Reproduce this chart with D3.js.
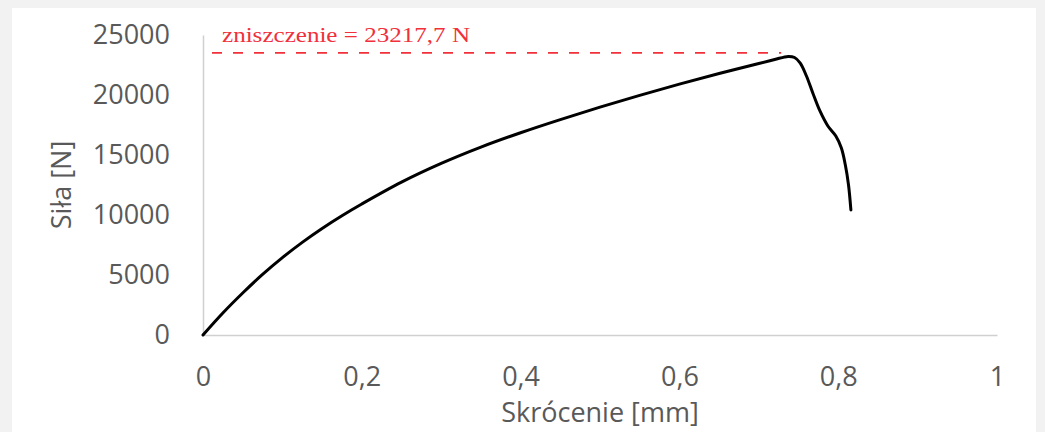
<!DOCTYPE html>
<html>
<head>
<meta charset="utf-8">
<script src="https://cdn.jsdelivr.net/npm/d3@7"></script>
<style>
  html, body { margin: 0; padding: 0; background: #f2f2f2; }
  svg { display: block; }
</style>
</head>
<body>
<svg id="chart" width="1045" height="432"></svg>
<script>
// Compression test: shortening [mm] vs. force [N]
const shortening = [0, 0.025, 0.05, 0.075, 0.1, 0.125, 0.15, 0.175, 0.2, 0.25, 0.3, 0.35, 0.4, 0.45,
  0.5, 0.55, 0.6, 0.65, 0.7, 0.72, 0.737, 0.745, 0.752, 0.760, 0.768, 0.777, 0.787, 0.797, 0.804,
  0.809, 0.813, 0.816];
const force = [0, 1833, 3500, 5050, 6450, 7720, 8880, 9940, 10917, 12737, 14297, 15657, 16857, 17952,
  18987, 19972, 20907, 21792, 22622, 22954, 23217.7, 23125, 22667, 21583, 20167, 18667, 17417, 16583,
  15583, 14167, 12500, 10417];
const failureForce = 23217.7;
const xTicks = [0, 0.2, 0.4, 0.6, 0.8, 1];
const yTicks = [0, 5000, 10000, 15000, 20000, 25000];

const svg = d3.select("#chart");

// white chart panel
svg.append("rect").attr("x", 12).attr("y", 8).attr("width", 1024).attr("height", 424).attr("fill", "#ffffff");

const x = d3.scaleLinear().domain([0, 1]).range([203, 997]);
const y = d3.scaleLinear().domain([0, 25000]).range([335, 35]);

const fmt = d => String(d).replace(".", ",");

// x axis
const xAxis = svg.append("g").attr("transform", `translate(0,${y(0)})`)
  .call(d3.axisBottom(x).tickValues(xTicks).tickSize(0).tickPadding(32).tickFormat(fmt));
xAxis.select(".domain").attr("stroke", "#d0d0d0").attr("stroke-width", 1.5);
xAxis.selectAll("text").attr("font-family", "'Open Sans', sans-serif").attr("font-size", 27)
  .attr("fill", "#595959");

// y axis
const yAxis = svg.append("g").attr("transform", `translate(${x(0)},0)`)
  .call(d3.axisLeft(y).tickValues(yTicks).tickSize(0).tickPadding(33).tickFormat(d => String(d)));
yAxis.select(".domain").attr("stroke", "#d0d0d0").attr("stroke-width", 1.5);
yAxis.selectAll("text").attr("font-family", "'Open Sans', sans-serif").attr("font-size", 27)
  .attr("fill", "#595959");

// axis titles
svg.append("text").attr("x", (x(0) + x(1)) / 2).attr("y", 422).attr("text-anchor", "middle")
  .attr("font-family", "'Open Sans', sans-serif").attr("font-size", 27).attr("fill", "#595959")
  .text("Skrócenie [mm]");
svg.append("text").attr("transform", `translate(71,${(y(0) + y(25000)) / 2}) rotate(-90)`)
  .attr("text-anchor", "middle")
  .attr("font-family", "'Open Sans', sans-serif").attr("font-size", 27).attr("fill", "#595959")
  .text("Siła [N]");

// force–shortening curve
const line = d3.line().x((d, i) => x(shortening[i])).y(d => y(d)).curve(d3.curveCatmullRom.alpha(0.5));
svg.append("path").datum(force).attr("d", line).attr("fill", "none")
  .attr("stroke", "#000").attr("stroke-width", 3).attr("stroke-linejoin", "round").attr("stroke-linecap", "round");

// failure annotation
const peakIdx = force.indexOf(failureForce);
svg.append("line").attr("x1", 212).attr("x2", x(shortening[peakIdx]) - 7)
  .attr("y1", y(failureForce) - 3.5).attr("y2", y(failureForce) - 3.5)
  .attr("stroke", "#f0303a").attr("stroke-width", 1.8).attr("stroke-dasharray", "10,11");
svg.append("text").attr("x", 222).attr("y", 42)
  .attr("font-family", "'Liberation Serif', 'Times New Roman', serif").attr("font-size", 22)
  .attr("fill", "#f0303a").attr("textLength", 248).attr("lengthAdjust", "spacingAndGlyphs")
  .text("zniszczenie = " + fmt(failureForce) + " N");
</script>
</body>
</html>
